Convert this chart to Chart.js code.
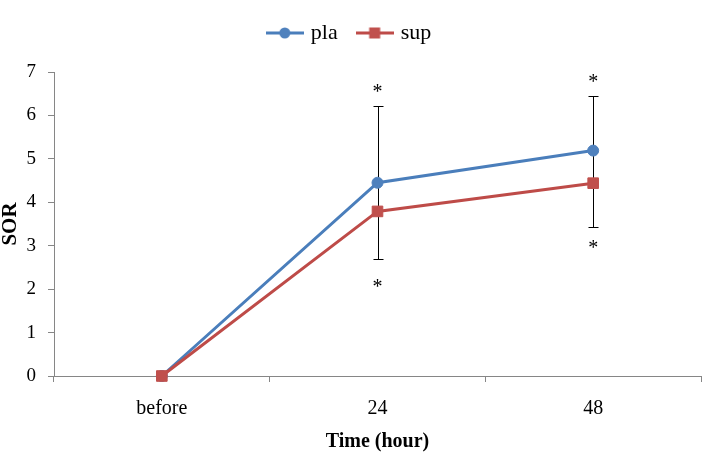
<!DOCTYPE html>
<html>
<head>
<meta charset="utf-8">
<script src="https://cdn.jsdelivr.net/npm/chart.js@4.4.1/dist/chart.umd.min.js"></script>
<style>
html,body{margin:0;padding:0;background:#fff;}
#wrap{width:726px;height:472px;position:relative;}
</style>
</head>
<body>
<div id="wrap"><canvas id="c" width="726" height="472"></canvas></div>
<script>
// ---- data ----
const categories = ['before', '24', '48'];
const plaValues = [0, 4.45, 5.19];
const supValues = [0, 3.79, 4.44];
const plaErrorUp = [null, 1.76, 1.25];
const supErrorDown = [null, 1.09, 1.02];
const starAbove = [null, 6.63, 6.86];
const starBelow = [null, 2.15, 3.03];
const yTicks = [0, 1, 2, 3, 4, 5, 6, 7];
const seriesNames = ['pla', 'sup'];

const FONT = '"Liberation Serif", "Times New Roman", serif';
Chart.defaults.font.family = FONT;
Chart.defaults.color = '#000';

const BLUE_LINE = '#4A7EBB', BLUE_MARK = '#4F81BD';
const RED_LINE = '#BE4B48', RED_MARK = '#C0504D';
const AXIS = '#868686';

function makeIcon(lineColor, markColor, shape) {
  const c = document.createElement('canvas');
  c.width = 38; c.height = 14;
  const g = c.getContext('2d');
  g.strokeStyle = lineColor; g.lineWidth = 3;
  g.beginPath(); g.moveTo(0, 7); g.lineTo(38, 7); g.stroke();
  g.fillStyle = markColor;
  if (shape === 'circle') { g.beginPath(); g.arc(19, 7, 5.5, 0, Math.PI * 2); g.fill(); }
  else { g.fillRect(13.5, 1.5, 11, 11); }
  return c;
}
const legendIcons = [makeIcon(BLUE_LINE, BLUE_MARK, 'circle'), makeIcon(RED_LINE, RED_MARK, 'rect')];

const legendGap = {
  id: 'legendGap',
  beforeInit(chart) {
    const box = {
      position: 'top', weight: 500, fullSize: true, options: {},
      left: 0, top: 0, right: 0, bottom: 0, width: 0, height: 0,
      isHorizontal() { return true; },
      update(maxWidth) { this.width = maxWidth; this.height = 18; },
      draw() {}
    };
    Chart.layouts.addBox(chart, box);
  }
};

const errorBars = {
  id: 'errorBars',
  beforeDatasetsDraw(chart) {
    const { ctx, scales: { x, y } } = chart;
    ctx.save();
    ctx.strokeStyle = '#000';
    ctx.lineWidth = 1;
    categories.forEach((c, i) => {
      if (plaErrorUp[i] == null) return;
      const px = Math.round(x.getPixelForValue(i)) + 0.5;
      const top = Math.round(y.getPixelForValue(plaValues[i] + plaErrorUp[i])) + 0.5;
      const bot = Math.round(y.getPixelForValue(supValues[i] - supErrorDown[i])) + 0.5;
      ctx.beginPath();
      ctx.moveTo(px, top); ctx.lineTo(px, bot);
      ctx.moveTo(px - 5, top); ctx.lineTo(px + 5, top);
      ctx.moveTo(px - 5, bot); ctx.lineTo(px + 5, bot);
      ctx.stroke();
    });
    ctx.restore();
  },
  afterDatasetsDraw(chart) {
    const { ctx, scales: { x, y } } = chart;
    ctx.save();
    ctx.fillStyle = '#000';
    ctx.font = '20px ' + FONT;
    ctx.textAlign = 'center';
    ctx.textBaseline = 'alphabetic';
    const m = ctx.measureText('*');
    const shift = (m.actualBoundingBoxAscent - m.actualBoundingBoxDescent) / 2;
    categories.forEach((c, i) => {
      const px = x.getPixelForValue(i);
      [starAbove[i], starBelow[i]].forEach(v => {
        if (v == null) return;
        ctx.fillText('*', px, y.getPixelForValue(v) + shift);
      });
    });
    ctx.restore();
  }
};

new Chart(document.getElementById('c'), {
  type: 'line',
  data: {
    labels: categories,
    datasets: [
      {
        label: seriesNames[0], data: plaValues, order: 1,
        borderColor: BLUE_LINE, backgroundColor: BLUE_MARK,
        pointBackgroundColor: BLUE_MARK, pointBorderColor: BLUE_MARK,
        borderWidth: 3, pointRadius: 5.5, pointStyle: 'circle', pointBorderWidth: 1,
        tension: 0, clip: false
      },
      {
        label: seriesNames[1], data: supValues, order: 0,
        borderColor: RED_LINE, backgroundColor: RED_MARK,
        pointBackgroundColor: RED_MARK, pointBorderColor: RED_MARK,
        borderWidth: 3, pointRadius: 7.5, pointStyle: 'rect', pointBorderWidth: 1,
        tension: 0, clip: false
      }
    ]
  },
  options: {
    responsive: false,
    animation: false,
    devicePixelRatio: 1,
    layout: { padding: { top: 0, left: 0, right: 25, bottom: 0 } },
    plugins: {
      tooltip: { enabled: false },
      legend: {
        position: 'top',
        labels: {
          usePointStyle: true,
          pointStyleWidth: 30,
          padding: 22,
          color: '#000',
          font: { size: 22, family: FONT },
          sort: (a, b) => a.datasetIndex - b.datasetIndex,
          generateLabels(chart) {
            const items = Chart.defaults.plugins.legend.labels.generateLabels(chart);
            items.forEach(it => { it.pointStyle = legendIcons[it.datasetIndex]; });
            return items;
          }
        }
      }
    },
    scales: {
      x: {
        type: 'category',
        offset: true,
        afterFit: s => { s.height = 96; },
        grid: { offset: true, drawOnChartArea: false, drawTicks: true, tickLength: 6, color: AXIS },
        border: { color: AXIS, width: 1 },
        ticks: { font: { size: 20, family: FONT }, color: '#000', padding: 15, maxRotation: 0 },
        title: { display: true, text: 'Time (hour)', color: '#000',
                 font: { size: 20, weight: 'bold', family: FONT }, padding: { top: 0, bottom: 18 } }
      },
      y: {
        min: 0, max: 7,
        afterBuildTicks: s => { s.ticks = yTicks.map(v => ({ value: v })); },
        afterFit: s => { s.width = 54; },
        grid: { drawOnChartArea: false, drawTicks: true, tickLength: 6, color: AXIS },
        border: { color: AXIS, width: 1 },
        ticks: { font: { size: 19, family: FONT }, color: '#000', padding: 12 },
        title: { display: true, text: 'SOR', color: '#000',
                 font: { size: 21, weight: 'bold', family: FONT, lineHeight: 1 }, padding: 0 }
      }
    }
  },
  plugins: [legendGap, errorBars]
});
</script>
</body>
</html>
